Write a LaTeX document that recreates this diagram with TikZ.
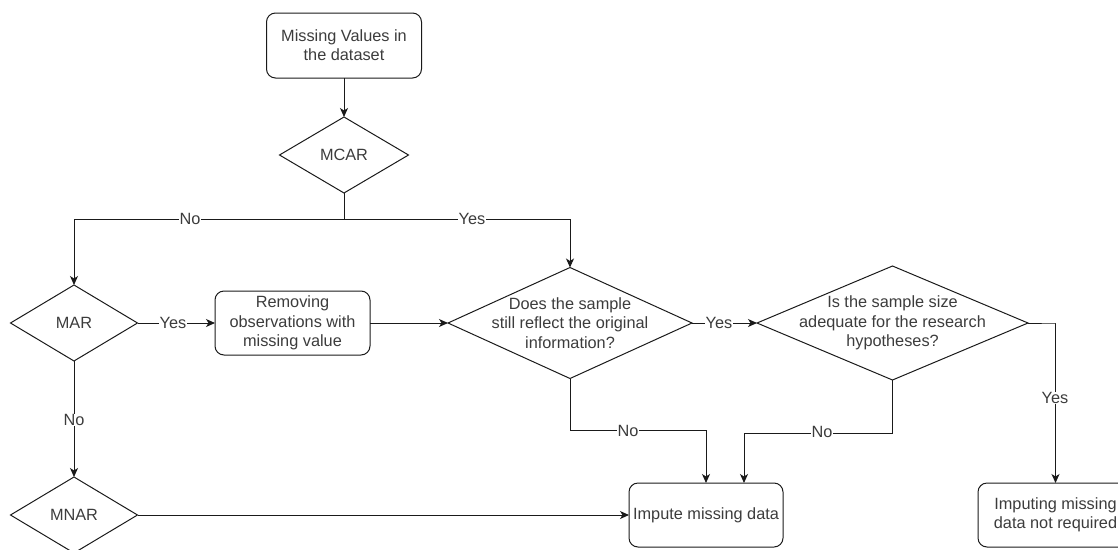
\documentclass[tikz,border=0pt]{standalone}
\usepackage{fontspec}
\setmainfont{Liberation Sans}
\usetikzlibrary{arrows.meta,shapes.geometric}
\definecolor{txt}{HTML}{3C3C3C}
\definecolor{ln}{HTML}{1A1A1A}
\begin{document}
\begin{tikzpicture}[x=1pt,y=-1pt,
  font=\fontsize{16.3}{19.3}\selectfont,
  every node/.style={text=txt},
  box/.style={draw=ln, line width=1pt, rounded corners=9pt, align=center, minimum width=155pt, minimum height=64pt, inner sep=0pt, outer sep=0pt},
  dia/.style={draw=ln, line width=1pt, diamond, inner sep=0pt, outer sep=0pt},
  dtxt/.style={align=center, text=txt, inner sep=0pt},
  con/.style={draw=ln, line width=1pt},
  arr/.style={con, -{Stealth[length=9pt,width=8pt,inset=2.5pt]}},
  lbl/.style={fill=white, inner sep=0.5pt, text=txt}
]
\useasboundingbox (0,0) rectangle (1118,549);

% nodes
\node[box, minimum height=65pt] (top) at (344,45.5) {Missing Values in\\the dataset};
\node[dia, minimum width=129pt, minimum height=76pt, label={[dtxt,name=mcart]center:MCAR}] (mcar) at (344,155) {};
\node[dia, minimum width=127pt, minimum height=76pt, label={[dtxt,name=mart]center:MAR}] (mar) at (74,323) {};
\node[box] (rem) at (292.5,323) {Removing\\observations with\\missing value};
\node[dia, minimum width=244pt, minimum height=111pt, label={[dtxt,name=q1t]center:Does the sample\\still reflect the original\\information?}] (q1) at (570,323) {};
\node[dia, minimum width=271pt, minimum height=114pt, label={[dtxt,name=q2t]center:Is the sample size\\adequate for the research\\hypotheses?}] (q2) at (892.5,323) {};
\node[dia, minimum width=127pt, minimum height=76pt, label={[dtxt,name=mnart]center:MNAR}] (mnar) at (74,515) {};
\node[box, minimum width=154pt] (imp) at (706,515) {Impute missing data};
\node[box] (nreq) at (1055.5,515) {Imputing missing\\data not required};

\coordinate (split) at (344,219);

% connectors
\draw[arr] (top) -- (mcar);
\draw[con] (mcar.south) -- (split);
\draw[arr] (split) -| (mar.north);
\draw[arr] (split) -| (q1.north);
\draw[arr] (mar.east) -- (rem.west);
\draw[arr] (rem.east) -- (q1.west);
\draw[arr] (q1.east) -- (q2.west);
\draw[arr] (mar.south) -- (mnar.north);
\draw[arr] (mnar.east) -- (imp.west);
\draw[arr] (q1.south) -- ++(0,52) -| (imp.north);
\draw[arr] (q2.south) -- ++(0,53) -| ([xshift=38pt]imp.north);
\draw[arr] (q2.east) -- ++(27,0) -| (nreq.north);

% labels
\node[lbl] (lno1) at (190,219) {No};
\node[lbl] (lyes1) at (472,219) {Yes};
\node[lbl] (lyes2) at (173,323) {Yes};
\node[lbl] (lno2) at (74,420) {No};
\node[lbl] (lyes3) at (719,323) {Yes};
\node[lbl] (lno3) at (628,431) {No};
\node[lbl] (lno4) at (822,432) {No};
\node[lbl] (lyes4) at (1055,398) {Yes};
\end{tikzpicture}
\end{document}
